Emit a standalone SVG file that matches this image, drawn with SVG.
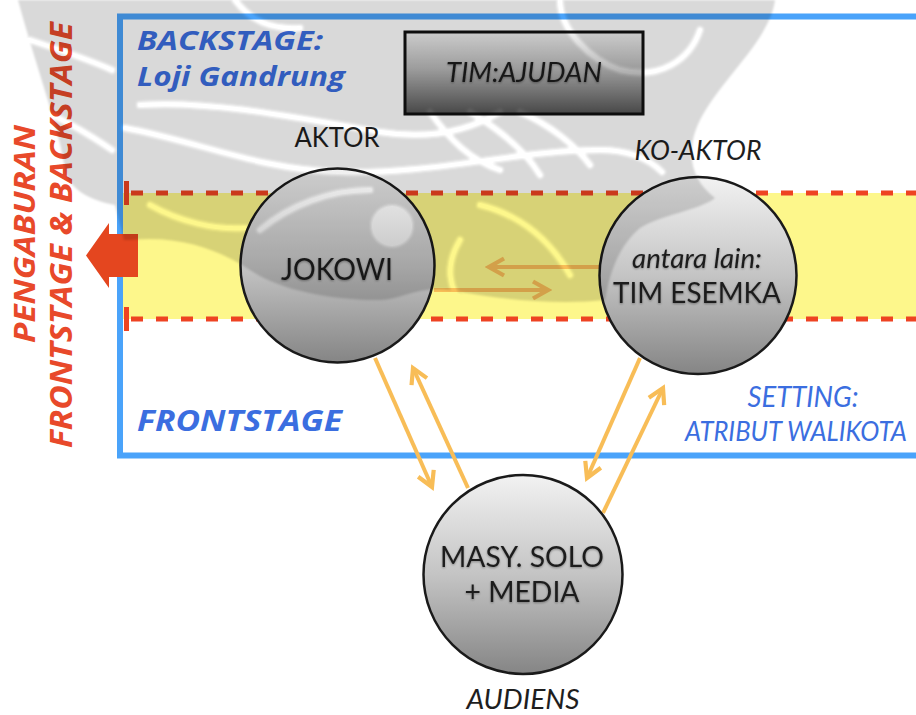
<svg xmlns="http://www.w3.org/2000/svg" width="916" height="715" viewBox="0 0 916 715">
  <defs>
    <style>
      .lbl { font-family: Lato, "Open Sans", sans-serif; fill: #1e1e1e; }
      .ital { font-style: italic; }
      .blue { font-family: "Open Sans", Lato, sans-serif; font-weight: 700; font-style: italic; fill: #3b6ee0; }
      .blue-thin { font-family: Lato, "Open Sans", sans-serif; font-style: italic; fill: #3b6ee0; }
      .red { font-family: "Open Sans", Lato, sans-serif; font-weight: 700; font-style: italic; fill: #e8492a; }
      .node { stroke: #1a1a1a; stroke-width: 2.5; fill: url(#ball); }
      .flow { fill: none; stroke: #f8bd57; stroke-width: 4; marker-end: url(#head); }
      .dash { fill: none; stroke: #ee4322; stroke-width: 5; stroke-dasharray: 12 13; }
    </style>
    <linearGradient id="ball" x1="0" y1="0" x2="0" y2="1">
      <stop offset="0" stop-color="#f2f2f2"/>
      <stop offset="0.5" stop-color="#c4c4c4"/>
      <stop offset="1" stop-color="#858585"/>
    </linearGradient>
    <linearGradient id="boxfill" x1="0" y1="0" x2="0" y2="1">
      <stop offset="0" stop-color="#f0f0f0"/>
      <stop offset="0.45" stop-color="#b8b8b8"/>
      <stop offset="1" stop-color="#555555"/>
    </linearGradient>
    <marker id="head" viewBox="-18 -11 22 22" markerWidth="22" markerHeight="22" markerUnits="userSpaceOnUse" refX="0" refY="0" orient="auto">
      <path d="M-15,-8.5 L0,0 L-15,8.5" fill="none" stroke="#f8bd57" stroke-width="4.2"/>
    </marker>
    <filter id="soft" x="-10%" y="-30%" width="120%" height="160%">
      <feDropShadow dx="0" dy="1" stdDeviation="1.2" flood-color="#000" flood-opacity="0.35"/>
    </filter>
    <filter id="haze" x="-5%" y="-5%" width="110%" height="110%">
      <feGaussianBlur stdDeviation="1"/>
    </filter>
    <!-- emblem silhouette with its white swirls cut out -->
    <mask id="emblemMask" maskUnits="userSpaceOnUse" x="0" y="0" width="916" height="715">
      <g filter="url(#haze)">
        <path fill="#fff" d="M18,0 L775,0 C770,40 720,80 700,120 C685,150 690,180 715,198 C700,210 660,215 640,228 C620,245 610,270 605,300 C560,305 500,300 450,290 C420,285 400,300 380,300 C330,300 280,290 250,270 C220,250 180,235 130,240 L124,240 L115,205 C90,200 70,190 65,170 C60,130 40,80 18,0 Z"/>
        <g fill="none" stroke="#000" stroke-width="8" stroke-linecap="round">
          <path d="M125,128 C200,142 260,170 340,172 C430,175 520,150 600,150 C630,150 650,160 662,172"/>
          <path d="M140,105 C210,100 300,118 380,132 C430,140 470,130 500,112"/>
          <path d="M30,40 C60,50 90,60 112,70"/>
          <path d="M40,110 C65,120 90,135 112,150"/>
          <path d="M235,0 C250,20 270,30 300,28"/>
          <path d="M560,0 C560,30 590,60 620,70 C660,80 690,60 700,30"/>
          <path d="M430,112 C450,140 470,160 500,170"/>
          <path d="M470,112 C500,130 525,150 540,175"/>
          <path d="M520,112 C550,125 575,145 590,165"/>
          <path d="M460,240 C445,265 448,290 465,305"/>
          <path d="M480,205 C520,215 550,240 570,275"/>
          <path d="M260,230 C290,205 330,190 370,190"/>
          <path d="M150,205 C180,222 215,230 245,228"/>
        </g>
        <circle cx="392" cy="226" r="22" fill="#000"/>
      </g>
    </mask>
  </defs>

  <rect width="916" height="715" fill="#ffffff"/>

  <!-- stage frame: open on the right, running off the page -->
  <g id="stage">
    <path d="M916,16.5 H120 V455.5 H916" fill="none" stroke="#4aa3fa" stroke-width="6"/>
  </g>

  <!-- blurred zone between frontstage and backstage -->
  <g id="blur-zone">
    <rect x="123" y="193" width="793" height="126" fill="#fdf78b"/>
    <path class="dash" d="M131,193 H916 M131,319 H916"/>
    <path d="M126.5,181 V205 M126.5,307 V331" stroke="#ee4322" stroke-width="5"/>
  </g>

  <g id="label-backstage">
    <text class="blue" x="137" y="50" font-size="26" textLength="186" lengthAdjust="spacingAndGlyphs">BACKSTAGE:</text>
    <text class="blue" x="137" y="86" font-size="26" textLength="208" lengthAdjust="spacingAndGlyphs">Loji Gandrung</text>
  </g>
  <g id="label-frontstage">
    <text class="blue" x="137" y="431" font-size="28" textLength="205" lengthAdjust="spacingAndGlyphs">FRONTSTAGE</text>
  </g>
  <g id="label-setting">
    <text class="blue-thin" x="803" y="407" font-size="29" text-anchor="middle" textLength="111" lengthAdjust="spacingAndGlyphs">SETTING:</text>
    <text class="blue-thin" x="907" y="441" font-size="27" text-anchor="end" textLength="222" lengthAdjust="spacingAndGlyphs">ATRIBUT WALIKOTA</text>
  </g>

  <g id="label-blurring">
    <polygon points="86,255.5 109,223 109,234 138,234 138,277 109,277 109,288" fill="#e4461f"/>
    <text class="red" transform="translate(35,234) rotate(-90)" font-size="28" text-anchor="middle" textLength="218" lengthAdjust="spacingAndGlyphs">PENGABURAN</text>
    <text class="red" transform="translate(72,235) rotate(-90)" font-size="30" text-anchor="middle" textLength="426" lengthAdjust="spacingAndGlyphs">FRONTSTAGE &amp; BACKSTAGE</text>
  </g>

  <!-- connectors -->
  <g id="connectors">
    <path class="flow" d="M600,267 H489"/>
    <path class="flow" d="M434,290 H548"/>
    <path class="flow" d="M375,358 L432,487"/>
    <path class="flow" d="M468,488 L413,368"/>
    <path class="flow" d="M640,358 L587,478"/>
    <path class="flow" d="M603,513 L663,388"/>
  </g>

  <g id="tim-ajudan">
    <rect x="405" y="32" width="238" height="82" fill="url(#boxfill)" stroke="#111" stroke-width="3"/>
    <text class="lbl ital" x="524" y="82" font-size="27" text-anchor="middle" textLength="156" lengthAdjust="spacingAndGlyphs" filter="url(#soft)">TIM:AJUDAN</text>
  </g>

  <g id="aktor">
    <text class="lbl" x="337" y="147" font-size="26" text-anchor="middle" textLength="85" lengthAdjust="spacingAndGlyphs">AKTOR</text>
    <circle class="node" cx="337.5" cy="265.5" r="97"/>
    <text class="lbl" x="337" y="280" font-size="30" text-anchor="middle" textLength="112" lengthAdjust="spacingAndGlyphs" filter="url(#soft)">JOKOWI</text>
  </g>

  <g id="ko-aktor">
    <text class="lbl ital" x="698" y="160" font-size="27" text-anchor="middle" textLength="127" lengthAdjust="spacingAndGlyphs">KO-AKTOR</text>
    <circle class="node" cx="698" cy="275.5" r="98.5"/>
    <text class="lbl ital" x="697" y="268" font-size="27" text-anchor="middle" textLength="130" lengthAdjust="spacingAndGlyphs" filter="url(#soft)">antara lain:</text>
    <text class="lbl" x="697" y="303" font-size="28" text-anchor="middle" textLength="168" lengthAdjust="spacingAndGlyphs" filter="url(#soft)">TIM ESEMKA</text>
  </g>

  <g id="audiens">
    <circle class="node" cx="523" cy="574.5" r="99.5"/>
    <text class="lbl" x="522" y="567" font-size="28" text-anchor="middle" textLength="164" lengthAdjust="spacingAndGlyphs" filter="url(#soft)">MASY. SOLO</text>
    <text class="lbl" x="522" y="602" font-size="28" text-anchor="middle" textLength="115" lengthAdjust="spacingAndGlyphs" filter="url(#soft)">+ MEDIA</text>
    <text class="lbl ital" x="523" y="709" font-size="27" text-anchor="middle" textLength="113" lengthAdjust="spacingAndGlyphs">AUDIENS</text>
  </g>

  <!-- faint emblem laid over the upper half -->
  <g id="emblem">
    <rect width="916" height="715" fill="#000" fill-opacity="0.15" mask="url(#emblemMask)"/>
  </g>
</svg>
